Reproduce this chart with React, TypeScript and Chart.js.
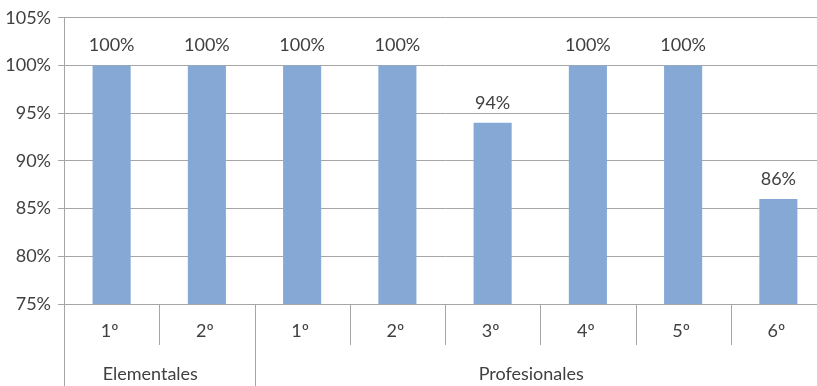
import React, { useEffect, useRef } from "react";
import { Chart, registerables } from "chart.js";

Chart.register(...registerables);

const categories = ["1º", "2º", "1º", "2º", "3º", "4º", "5º", "6º"];
const values = [100, 100, 100, 100, 94, 100, 100, 86];
const groups = [
  { label: "Elementales", count: 2 },
  { label: "Profesionales", count: 6 },
];
const yTicks = [75, 80, 85, 90, 95, 100, 105];

const FONT = "Lato, 'Open Sans', sans-serif";
const TEXT = "#404040";
const GRID = "#a6a6a6";

export default function App() {
  const ref = useRef<HTMLCanvasElement | null>(null);
  useEffect(() => {
    if (!ref.current) return;
    const plugin = {
      id: "custom",
      afterDraw(chart: any) {
        const ctx = chart.ctx;
        const area = chart.chartArea;
        const n = categories.length;
        const w = (area.right - area.left) / n;
        const H = chart.height;
        ctx.save();
        ctx.strokeStyle = GRID;
        ctx.lineWidth = 1;
        ctx.beginPath();
        ctx.moveTo(Math.round(area.left) + 0.5, area.bottom);
        ctx.lineTo(Math.round(area.left) + 0.5, H);
        ctx.stroke();
        const groupEdges = new Set<number>();
        let acc = 0;
        groups.forEach((g) => {
          acc += g.count;
          groupEdges.add(acc);
        });
        for (let i = 1; i < n; i++) {
          const x = Math.round(area.left + i * w) + 0.5;
          ctx.beginPath();
          ctx.moveTo(x, area.bottom);
          ctx.lineTo(x, groupEdges.has(i) ? H : area.bottom + 41);
          ctx.stroke();
        }
        ctx.fillStyle = TEXT;
        ctx.font = `18px ${FONT}`;
        ctx.textAlign = "center";
        ctx.textBaseline = "middle";
        categories.forEach((c, i) => {
          ctx.fillText(c, area.left + (i + 0.5) * w - 2, area.bottom + 27);
        });
        let start = 0;
        groups.forEach((g) => {
          const cx = area.left + (start + g.count / 2) * w - 9;
          ctx.fillText(g.label, cx, H - 12);
          start += g.count;
        });
        const meta = chart.getDatasetMeta(0);
        meta.data.forEach((bar: any, i: number) => {
          ctx.fillText(values[i] + "%", bar.x, bar.y - 20);
        });
        ctx.restore();
      },
    };
    const chart = new Chart(ref.current, {
      type: "bar",
      data: {
        labels: categories,
        datasets: [
          {
            data: values,
            backgroundColor: "#85a9d4",
            borderWidth: 0,
            barPercentage: 0.4,
            categoryPercentage: 1,
          },
        ],
      },
      options: {
        animation: false,
        responsive: false,
        maintainAspectRatio: false,
        layout: { padding: { top: 7, right: 0, bottom: 0, left: 0 } },
        plugins: { legend: { display: false }, tooltip: { enabled: false } },
        scales: {
          x: {
            grid: { display: false },
            border: { display: false },
            ticks: { display: false },
            afterFit(scale: any) {
              scale.height = 82;
            },
          },
          y: {
            min: 75,
            max: 105,
            afterBuildTicks(scale: any) {
              scale.ticks = yTicks.map((v) => ({ value: v }));
            },
            afterFit(scale: any) {
              scale.width = 64;
            },
            grid: { color: GRID, tickLength: 6, drawTicks: true },
            border: { color: GRID },
            ticks: {
              color: TEXT,
              font: { family: FONT, size: 18 },
              padding: 7,
              callback: (v: any) => v + "%",
            },
          },
        },
      },
      plugins: [plugin],
    } as any);
    return () => chart.destroy();
  }, []);
  return (
    <div
      style={{
        position: "fixed",
        left: 0,
        top: 0,
        width: 817,
        height: 386,
        overflow: "hidden",
        background: "#fff",
      }}
    >
      <canvas ref={ref} width={826} height={386} style={{ display: "block" }} />
    </div>
  );
}
